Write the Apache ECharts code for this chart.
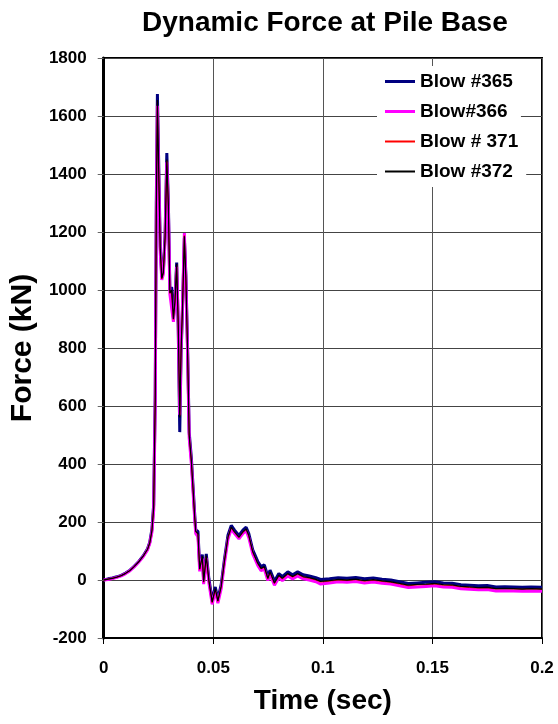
<!DOCTYPE html>
<html>
<head>
<meta charset="utf-8">
<script src="https://cdn.jsdelivr.net/npm/echarts@6/dist/echarts.min.js"></script>
<style>
html,body{margin:0;padding:0;background:#fff;}
#chart{width:558px;height:724px;}
</style>
</head>
<body>
<div id="chart"></div>
<script>
const seriesNames = ['Blow #365', 'Blow#366', 'Blow # 371', 'Blow #372'];
const xTicks = [0, 0.05, 0.1, 0.15, 0.2];
const yTicks = [-200, 0, 200, 400, 600, 800, 1000, 1200, 1400, 1600, 1800];

const time = [
 0, 0.002, 0.004, 0.006, 0.008, 0.010, 0.012, 0.014, 0.016, 0.018,
 0.020, 0.021, 0.022, 0.0228, 0.0235, 0.024, 0.0245, 0.0252, 0.0258, 0.0265,
 0.0272, 0.028, 0.0288, 0.0295, 0.0302, 0.031, 0.0318, 0.0325, 0.0333, 0.034,
 0.0347, 0.0353, 0.036, 0.0368, 0.0375, 0.0383, 0.039, 0.040, 0.0408, 0.0415,
 0.042, 0.043, 0.0438, 0.045, 0.0456, 0.0468, 0.048, 0.0495, 0.0509, 0.0521,
 0.0536, 0.0551, 0.0567, 0.0582, 0.0597, 0.0617, 0.0635, 0.065, 0.0662, 0.068,
 0.0703, 0.0718, 0.0733, 0.0749, 0.0759, 0.0779, 0.0799, 0.0815, 0.084, 0.0862,
 0.0885, 0.091, 0.0938, 0.0968, 0.099, 0.103, 0.107, 0.111, 0.115, 0.119,
 0.123, 0.127, 0.131, 0.135, 0.139, 0.143, 0.147, 0.151, 0.155, 0.159,
 0.163, 0.167, 0.171, 0.175, 0.179, 0.183, 0.187, 0.191, 0.195, 0.2
];

const blow365 = [
 0, 4, 7, 11, 16, 24, 34, 48, 64, 83,
 108, 130, 175, 260, 640, 1300, 1676, 1390, 1150, 1045,
 1065, 1190, 1472, 1300, 1000, 1010, 905, 970, 1095, 870,
 510, 780, 945, 1178, 1050, 790, 510, 420, 318, 228,
 172, 168, 45, 88, -2, 90, 4, -70, -24, -66,
 -16, 72, 154, 188, 172, 154, 172, 182, 160, 104,
 64, 46, 52, 12, 34, -4, 22, 12, 28, 18,
 28, 18, 14, 8, 2, 4, 8, 6, 9, 4,
 7, 3, 0, -6, -12, -10, -8, -6, -10, -11,
 -16, -18, -20, -19, -24, -23, -24, -25, -24, -25
];

const blow366 = [
 0, 2, 5, 9, 14, 22, 32, 46, 62, 80,
 104, 126, 165, 240, 600, 1250, 1635, 1345, 1130, 1035,
 1055, 1170, 1440, 1280, 985, 990, 890, 950, 1080, 890,
 570, 800, 960, 1196, 1030, 770, 490, 400, 300, 212,
 160, 150, 30, 74, -14, 76, -10, -84, -38, -80,
 -30, 58, 140, 176, 160, 142, 160, 170, 146, 90,
 50, 32, 38, -2, 20, -18, 8, -2, 14, 4,
 14, 4, 0, -6, -14, -10, -6, -8, -5, -10,
 -7, -11, -14, -20, -26, -24, -22, -20, -24, -25,
 -30, -32, -34, -33, -38, -37, -38, -39, -38, -39
];

const blow371 = [
 0, 3, 6, 10, 15, 23, 33, 47, 63, 81,
 105, 127, 168, 248, 610, 1270, 1650, 1365, 1138, 1038,
 1058, 1178, 1445, 1288, 988, 998, 898, 958, 1088, 882,
 565, 792, 952, 1188, 1038, 778, 498, 408, 308, 218,
 166, 158, 36, 80, -8, 82, -4, -78, -32, -74,
 -24, 64, 146, 180, 164, 146, 164, 174, 152, 96,
 56, 38, 44, 4, 26, -12, 14, 4, 20, 10,
 20, 10, 6, 0, -7, -4, 0, -2, 1, -4,
 -1, -5, -8, -14, -20, -17, -16, -14, -18, -19,
 -24, -26, -28, -27, -31, -30, -31, -32, -31, -32
];

const blow372 = [
 0, 3, 6, 10, 15, 23, 33, 47, 63, 82,
 106, 128, 170, 250, 620, 1280, 1655, 1370, 1140, 1040,
 1060, 1180, 1450, 1290, 990, 1000, 900, 960, 1090, 880,
 560, 790, 950, 1185, 1040, 780, 500, 410, 310, 220,
 168, 160, 38, 82, -6, 84, -2, -76, -30, -72,
 -22, 66, 148, 182, 166, 148, 166, 176, 154, 98,
 58, 40, 46, 6, 28, -10, 16, 6, 22, 12,
 22, 12, 8, 2, -5, -2, 2, 0, 3, -2,
 1, -3, -6, -12, -18, -15, -14, -12, -16, -17,
 -22, -24, -26, -25, -30, -29, -30, -31, -30, -31
];

const allValues = [blow365, blow366, blow371, blow372];
const colors = ['#000080', '#ff00ff', '#ff0000', '#000000'];
const widths = [3, 3, 1, 1.3];
const FONT = '"Liberation Sans", Arial, sans-serif';

const legendText = {fontFamily: FONT, fontSize: 19, fontWeight: 'bold', color: '#000', lineHeight: 19};

const chart = echarts.init(document.getElementById('chart'), null, {renderer: 'canvas'});
chart.setOption({
  animation: false,
  backgroundColor: '#fff',
  title: {
    text: 'Dynamic Force at Pile Base',
    left: 137,
    top: 4,
    textStyle: {fontFamily: FONT, fontSize: 28, fontWeight: 'bold', color: '#000'}
  },
  legend: [
    {
      orient: 'vertical',
      left: 377,
      top: 66,
      backgroundColor: '#fff',
      padding: [6, 8, 6, 8],
      icon: 'rect',
      itemWidth: 30,
      itemHeight: 3,
      itemGap: 11,
      data: [seriesNames[0], seriesNames[1]],
      textStyle: legendText
    },
    {
      orient: 'vertical',
      left: 377,
      top: 126,
      backgroundColor: '#fff',
      padding: [6, 8, 6, 8],
      icon: 'rect',
      itemWidth: 30,
      itemHeight: 2,
      itemGap: 11,
      data: [seriesNames[2], seriesNames[3]],
      textStyle: legendText
    }
  ],
  grid: {
    left: 102, right: 16, top: 58, bottom: 86,
    show: true, borderColor: '#000', borderWidth: 2, backgroundColor: 'transparent'
  },
  xAxis: {
    type: 'value',
    min: xTicks[0], max: xTicks[xTicks.length - 1], interval: 0.05,
    name: 'Time (sec)', nameLocation: 'middle', nameGap: 49,
    nameTextStyle: {fontFamily: FONT, fontSize: 28, fontWeight: 'bold', color: '#000'},
    axisLine: {onZero: false, lineStyle: {color: '#000', width: 2}},
    axisTick: {show: true, length: 6, lineStyle: {color: '#000'}},
    axisLabel: {fontFamily: FONT, fontSize: 17, fontWeight: 'bold', color: '#000', margin: 22,
      formatter: v => String(v)},
    splitLine: {show: true, lineStyle: {color: '#555', width: 1}}
  },
  yAxis: {
    type: 'value',
    min: yTicks[0], max: yTicks[yTicks.length - 1], interval: 200,
    name: 'Force (kN)', nameLocation: 'middle', nameGap: 54,
    nameTextStyle: {fontFamily: FONT, fontSize: 30, fontWeight: 'bold', color: '#000'},
    axisLine: {show: true, lineStyle: {color: '#000', width: 3}},
    axisTick: {show: true, length: 6, lineStyle: {color: '#666'}},
    axisLabel: {fontFamily: FONT, fontSize: 17, fontWeight: 'bold', color: '#000', margin: 17,
      formatter: v => String(v)},
    splitLine: {show: true, lineStyle: {color: '#444', width: 1}}
  },
  series: seriesNames.map((name, i) => ({
    name: name,
    type: 'line',
    symbol: 'none',
    smooth: false,
    color: colors[i],
    lineStyle: {color: colors[i], width: widths[i]},
    z: 2 + i,
    data: time.map((t, k) => [t, allValues[i][k]])
  }))
});
</script>
</body>
</html>
